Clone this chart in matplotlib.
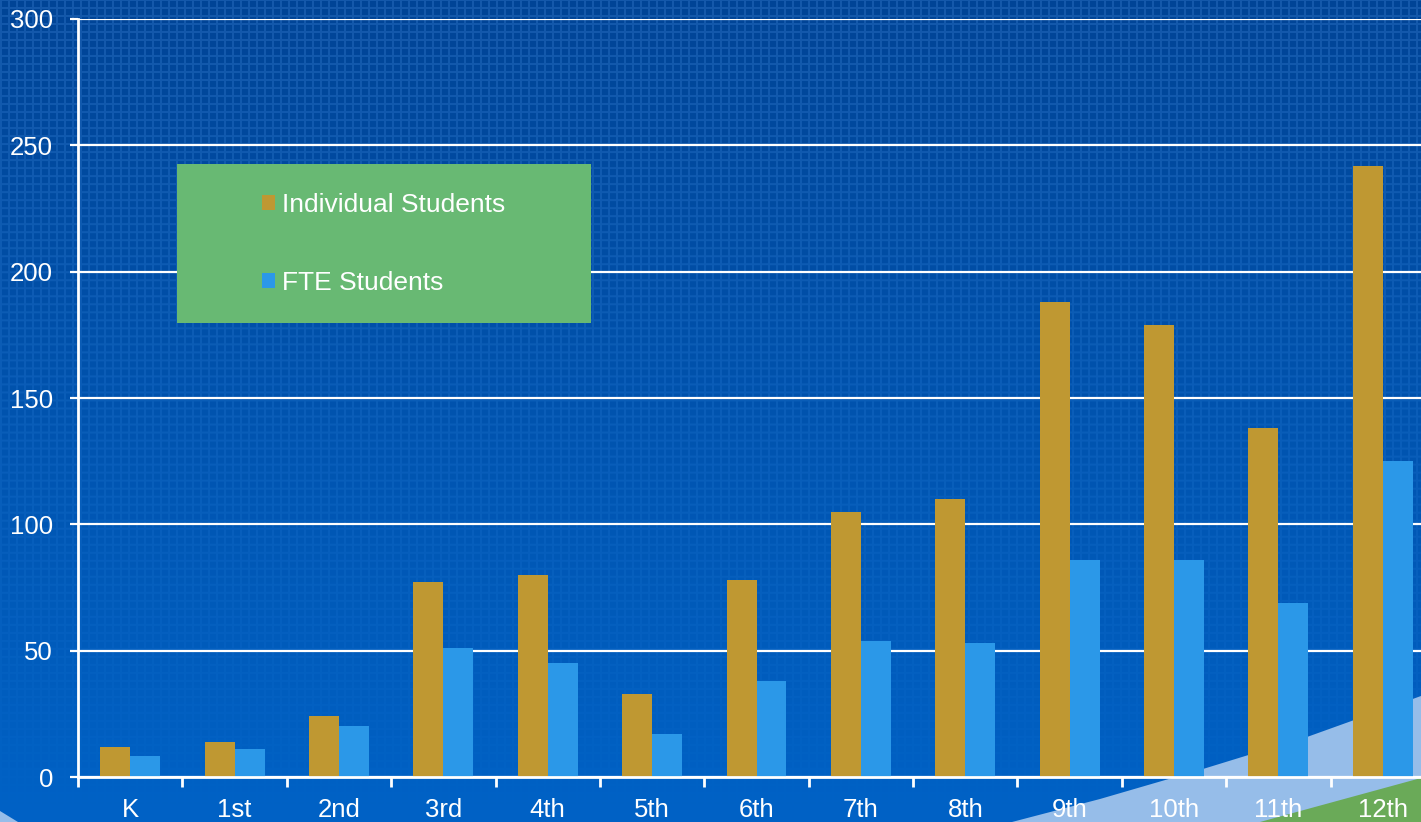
import numpy as np
import matplotlib
matplotlib.use("Agg")
from matplotlib import pyplot as plt
from matplotlib.patches import Polygon, Rectangle

plt.rcParams["font.family"] = ["Liberation Sans", "DejaVu Sans"]

grades = ["K", "1st", "2nd", "3rd", "4th", "5th", "6th", "7th", "8th", "9th", "10th", "11th", "12th"]
individual = [12, 14, 24, 77, 80, 33, 78, 105, 110, 188, 179, 138, 242]
fte = [8.3, 11, 20, 51, 45, 17, 38, 54, 53, 86, 86, 69, 125]

W, H = 1421, 822
fig = plt.figure(figsize=(W / 100, H / 100), dpi=100)

# background: blue gradient with a faint square texture
bg = fig.add_axes([0, 0, 1, 1], zorder=0)
bg.set_axis_off()
yy, xx = np.mgrid[0:H, 0:W]
t = (yy / (H - 1))[..., None]
top = np.array([0, 68, 150]) / 255
bot = np.array([0, 98, 198]) / 255
img = top * (1 - t) + bot * t
lines = ((xx % 8) < 2) | ((yy % 8) < 2)
img = img + (lines[..., None] * (1 - t) * np.array([0.08, 0.08, 0.08]))
bg.imshow(np.clip(img, 0, 1), extent=[0, 1, 0, 1], aspect="auto", origin="upper")
bg.set_xlim(0, 1)
bg.set_ylim(0, 1)


def px(pts):
    return [(x / W, 1 - y / H) for x, y in pts]


bg.add_patch(Polygon(px([(1012, 822), (1100, 799), (1203, 769), (1307, 737), (1421, 696), (1421, 822)]),
                     closed=True, facecolor="#96bde9", edgecolor="none"))
bg.add_patch(Polygon(px([(1260, 822), (1421, 778), (1421, 822)]),
                     closed=True, facecolor="#6aaa58", edgecolor="none"))
bg.add_patch(Polygon(px([(0, 811), (18, 822), (0, 822)]),
                     closed=True, facecolor="#96bde9", edgecolor="none"))

# main chart
left, bottom = 78 / W, 1 - 777 / H
ax = fig.add_axes([left, bottom, 1357 / W, (777 - 19) / H], zorder=1)
ax.patch.set_alpha(0)

x = np.arange(len(grades))
w = 0.287
ax.bar(x - w / 2, individual, w, color="#bf9832", label="Individual Students", zorder=2)
ax.bar(x + w / 2, fte, w, color="#2b98e8", label="FTE Students", zorder=2)

ax.set_xlim(-0.5, len(grades) - 0.5)
ax.set_ylim(0, 300)
ax.set_yticks(range(0, 301, 50))
ax.yaxis.grid(True, color="white", linewidth=1.6)
ax.set_axisbelow(True)

for s in ["top", "right"]:
    ax.spines[s].set_visible(False)
for s in ["left", "bottom"]:
    ax.spines[s].set_color("white")
    ax.spines[s].set_linewidth(2)

ax.set_xticks(x)
ax.set_xticklabels(grades)
ax.set_xticks(np.arange(-0.5, len(grades), 1), minor=True)
ax.tick_params(axis="x", which="major", length=0, pad=15, labelsize=18.5, labelcolor="white")
ax.tick_params(axis="x", which="minor", length=7, width=2, color="white", direction="out")
ax.tick_params(axis="y", length=6, width=1.6, color="white", pad=12, labelsize=18.5, labelcolor="white")

ax.add_patch(Rectangle((177 / W, 1 - 323 / H), 414 / W, 159 / H, transform=fig.transFigure,
                       facecolor="#68b973", edgecolor="none", zorder=3))
leg = ax.legend(loc="upper left", bbox_to_anchor=(262 / W, 1 - 193 / H), bbox_transform=fig.transFigure,
                frameon=False, fontsize=19, borderpad=0, borderaxespad=0, handlelength=0.49,
                handleheight=0.49, handletextpad=0.27, labelspacing=2.05)
for txt in leg.get_texts():
    txt.set_color("white")
leg.set_zorder(5)

fig.savefig("out.png", dpi=100)
